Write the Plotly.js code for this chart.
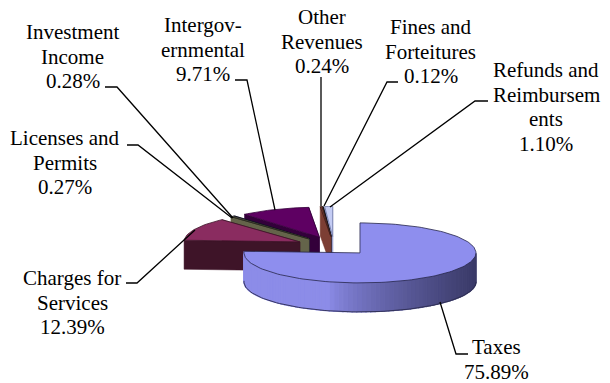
<!DOCTYPE html>
<html>
<head>
<meta charset="utf-8">
<script src="https://cdn.plot.ly/plotly-3.0.1.min.js"></script>
<style>html,body{margin:0;padding:0;background:#fff}#chart{width:610px;height:383px}</style>
</head>
<body>
<div id="chart"></div>
<script>
// Revenue shares, clockwise from twelve o'clock
const sliceNames = ["Taxes", "Charges for Services", "Licenses and Permits", "Investment Income",
  "Intergovernmental", "Other Revenues", "Fines and Forteitures", "Refunds and Reimbursements"];
const sliceShares = [75.89, 12.39, 0.27, 0.28, 9.71, 0.24, 0.12, 1.10];
const topColors = ["#8e8eee", "#8a2c60", "#6e6e52", "#23233f", "#5e0062", "#80403a", "#1d1d30", "#c4ccf4"];
const sideColors = ["#8a8ae2", "#3e1428", "#64644a", "#1a1a30", "#33003a", "#7c3e34", "#1a1a28", "#9aa2d0"];
const edgeColors = ["#26264a", "#3e1428", "#2a2a20", "#101020", "#33003a", "#3a1c18", "#101018", "#7078a8"];

// Label text, one entry per line (the percentage is appended from sliceShares)
const labelLines = [["Taxes"], ["Charges for", "Services"], ["Licenses and", "Permits"], ["Investment", "Income"],
  ["Intergov-", "ernmental"], ["Other", "Revenues"], ["Fines and", "Forteitures"], ["Refunds and", "Reimbursem", "ents"]];
const labelCenterX = [496, 72, 65, 72.5, 203, 322, 430.5, 546];
const labelFirstY = [347, 278, 138, 32, 25, 17, 27, 70];

// Leader lines, label end first
const leaderX = [[468, 456, 440], [126, 137, 195], [127, 138, 232], [105, 117, 233],
  [235, 247, 275], [321, 321, 321], [398, 387, 324], [488, 475, 330]];
const leaderY = [[354, 354, 302], [283, 283, 230], [145, 145, 218], [87, 87, 218],
  [80, 80, 210], [77, 77, 206], [82, 82, 206], [101, 101, 207]];

// Projection of the tilted, exploded pie
const center = {x: 334, y: 246};
const radiusX = 116, radiusY = 30, wallHeight = 29, explodeX = 37.8, explodeY = 9.5;
const wallLight = [140, 140, 232], wallDark = [58, 58, 104];

const rad = d => d * Math.PI / 180;
const traces = [];

function addPolygon(xs, ys, fill, lineColor, lineWidth) {
  traces.push({
    type: "scatter", mode: "lines", x: xs.concat(xs[0]), y: ys.concat(ys[0]),
    fill: "toself", fillcolor: fill,
    line: {color: lineColor || fill, width: lineWidth === undefined ? 0.5 : lineWidth},
    hoverinfo: "skip", showlegend: false
  });
}

function drawSlice(i, startDeg, endDeg) {
  const mid = rad((startDeg + endDeg) / 2);
  const apex = {
    x: center.x + explodeX * Math.sin(mid),
    y: center.y - explodeY * Math.cos(mid)
  };
  const rim = d => ({
    x: apex.x + radiusX * Math.sin(rad(d)),
    y: apex.y - radiusY * Math.cos(rad(d))
  });

  // Flat cut faces
  if (i !== 0) {
    [endDeg, startDeg].forEach(d => {
      const p = rim(d);
      addPolygon([p.x, apex.x, apex.x, p.x],
        [p.y, apex.y, apex.y + wallHeight, p.y + wallHeight], sideColors[i]);
    });
  }

  // Curved outer wall, only the part facing the viewer, shaded strip by strip:
  // flat light colour on the left, falling off toward the right edge
  const from = Math.max(startDeg, 90), to = Math.min(endDeg, 273.3);
  if (to - from > 1) {
    const steps = 80;
    for (let s = 0; s < steps; s++) {
      const a = from + (to - from) * s / steps;
      const b = from + (to - from) * (s + 1) / steps;
      const p = rim(a), q = rim(b);
      const t = Math.min(1, Math.max(0, (p.x - apex.x + 30) / (radiusX + 30)));
      const c = wallLight.map((v, k) => Math.round(v + (wallDark[k] - v) * Math.pow(t, 0.75)));
      addPolygon([p.x, q.x, q.x, p.x],
        [p.y, q.y, q.y + wallHeight, p.y + wallHeight], `rgb(${c.join(",")})`, `rgb(${c.join(",")})`, 1.2);
    }
    // Lower rim of the wall
    const ex = [], ey = [];
    for (let d = from; d <= to; d += 2) { const p = rim(d); ex.push(p.x); ey.push(p.y + wallHeight); }
    traces.push({type: "scatter", mode: "lines", x: ex, y: ey,
      line: {color: "#2c2c50", width: 0.9}, hoverinfo: "skip", showlegend: false});
  }

  // Top face
  const xs = [apex.x], ys = [apex.y];
  const n = Math.max(2, Math.ceil((endDeg - startDeg) / 2));
  for (let s = 0; s <= n; s++) {
    const p = rim(startDeg + (endDeg - startDeg) * s / n);
    xs.push(p.x); ys.push(p.y);
  }
  addPolygon(xs, ys, topColors[i], edgeColors[i], 0.8);
}

// Accumulate slice angles, then paint from the back of the pie to the front
const total = sliceShares.reduce((a, b) => a + b, 0);
let acc = 0;
const spans = sliceShares.map(v => {
  const s = acc / total * 360; acc += v;
  return [s, acc / total * 360];
});
[7, 6, 5, 4, 3, 2, 1, 0].forEach(i => drawSlice(i, spans[i][0], spans[i][1]));

// Leader lines
leaderX.forEach((xs, i) => traces.push({
  type: "scatter", mode: "lines", x: xs, y: leaderY[i],
  line: {color: "#000", width: 1.3}, hoverinfo: "skip", showlegend: false
}));

// Labels, set line by line for tight leading
const lineStep = 24.5;
const annotations = [];
labelLines.forEach((lines, i) => {
  lines.concat(sliceShares[i].toFixed(2) + "%").forEach((text, k) => annotations.push({
    x: labelCenterX[i], y: labelFirstY[i] + k * lineStep, xref: "x", yref: "y",
    text: text, showarrow: false, xanchor: "center", yanchor: "middle",
    font: {family: "Liberation Serif, Times New Roman, serif", size: 21, color: "#000"}
  }));
});

Plotly.newPlot("chart", traces, {
  width: 610, height: 383,
  margin: {l: 0, r: 0, t: 0, b: 0},
  paper_bgcolor: "#fff", plot_bgcolor: "#fff",
  xaxis: {range: [0, 610], visible: false, fixedrange: true},
  yaxis: {range: [383, 0], visible: false, fixedrange: true},
  showlegend: false, hovermode: false,
  annotations: annotations
}, {displayModeBar: false, staticPlot: true});
</script>
</body>
</html>
